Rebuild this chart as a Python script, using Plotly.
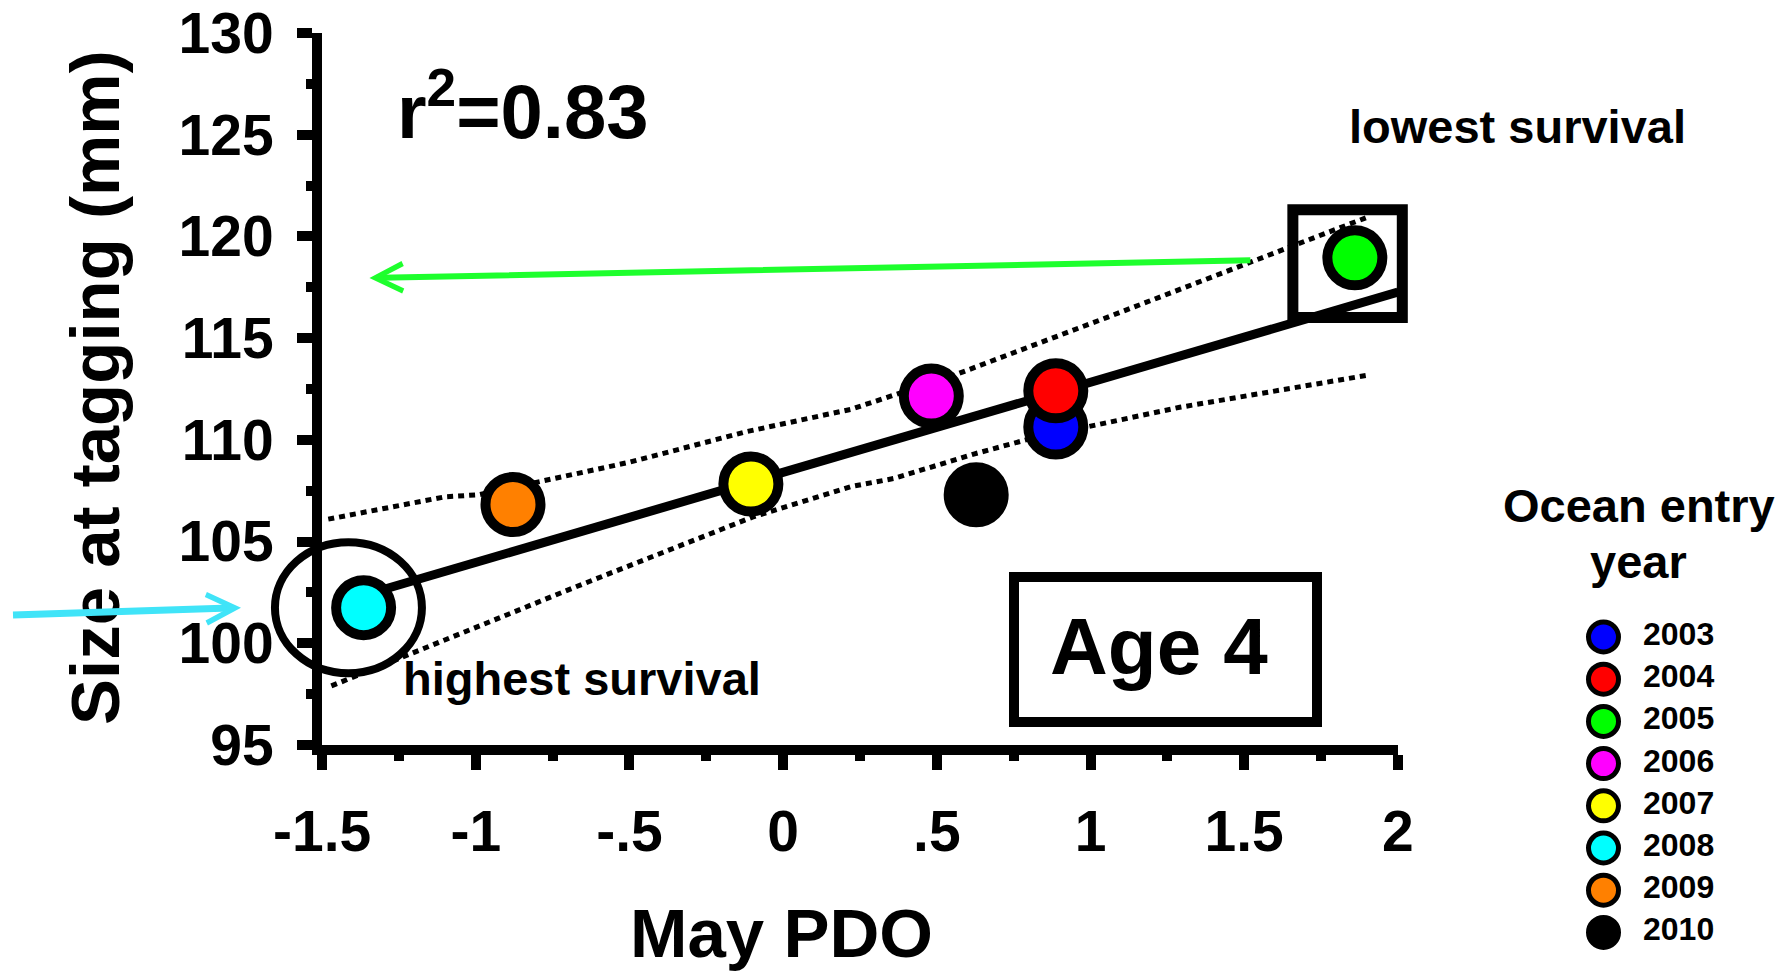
import numpy as np
import plotly.graph_objects as go

# ---------------- data ----------------
years = ['2003', '2004', '2005', '2006', '2007', '2008', '2009', '2010']
may_pdo = [0.887, 0.887, 1.860, 0.482, -0.105, -1.365, -0.879, 0.628]
size_mm = [110.63, 112.41, 118.95, 112.15, 107.83, 101.75, 106.82, 107.30]
year_colors = ['#0000ff', '#ff0000', '#00ff00', '#ff00ff', '#ffff00', '#00ffff', '#ff8000', '#000000']

# dotted confidence band
upper_x = [-1.48, -1.10, -0.99, -0.50, -0.12, 0.22, 0.38, 0.56, 1.05, 1.52, 1.91]
upper_y = [106.1, 107.2, 107.3, 108.9, 110.4, 111.5, 112.3, 113.2, 116.0, 118.7, 121.0]
lower_x = [-1.47, -1.37, -1.18, -0.98, -0.67, -0.10, 0.22, 0.36, 0.62, 0.79, 1.29, 1.91]
lower_y = [97.9, 98.5, 99.7, 100.9, 102.8, 106.2, 107.7, 108.1, 109.3, 110.0, 111.6, 113.2]

x_ticks = [-1.5, -1.0, -0.5, 0.0, 0.5, 1.0, 1.5, 2.0]
x_ticktext = ['-1.5', '-1', '-.5', '0', '.5', '1', '1.5', '2']
y_ticks = [95, 100, 105, 110, 115, 120, 125, 130]
y_ticktext = [str(v) for v in y_ticks]

r2_label = 'r<sup>2</sup>=0.83'

# ---------------- geometry ----------------
W, H = 1785, 974
XR = [-1.5, 2.0]
YR = [95, 130]
PL, PR, PT, PB = 322, 1398, 33, 745   # plot area in pixels
EPS = 0.004                           # tiny range padding so end ticks are kept

FONT = 'Liberation Sans, Arial, Helvetica, sans-serif'


def pxx(X):
    return X / W


def pxy(Y):
    return 1 - Y / H


def d2px_x(x):
    return PL + (x - XR[0]) / (XR[1] - XR[0]) * (PR - PL)


def d2px_y(y):
    return PB - (y - YR[0]) / (YR[1] - YR[0]) * (PB - PT)


# regression line
slope, intercept = np.polyfit(may_pdo, size_mm, 1)
fit_x = np.array([min(may_pdo), XR[1]])
fit_y = slope * fit_x + intercept

fig = go.Figure()

dot_line = dict(color='black', width=5, dash='6px,5px')
fig.add_trace(go.Scatter(x=upper_x, y=upper_y, mode='lines', line=dot_line,
                         showlegend=False, hoverinfo='skip'))
fig.add_trace(go.Scatter(x=lower_x, y=lower_y, mode='lines', line=dot_line,
                         showlegend=False, hoverinfo='skip'))
fig.add_trace(go.Scatter(x=fit_x, y=fit_y, mode='lines',
                         line=dict(color='black', width=9),
                         showlegend=False, hoverinfo='skip'))
for yr, xv, yv, c in zip(years, may_pdo, size_mm, year_colors):
    fig.add_trace(go.Scatter(x=[xv], y=[yv], mode='markers', name=yr,
                             marker=dict(size=55, color=c,
                                         line=dict(color='black', width=10)),
                             showlegend=False))

# custom legend on its own axes
LEG_X0, LEG_X1 = 1570, 1780
LEG_ROW0, LEG_ROW_STEP = 637, 42.2
leg_top = LEG_ROW0 - LEG_ROW_STEP / 2
leg_bot = LEG_ROW0 + LEG_ROW_STEP * (len(years) - 0.5)
fig.add_trace(go.Scatter(x=[1603.5 - LEG_X0] * len(years), y=years, mode='markers',
                         marker=dict(size=30, color=year_colors,
                                     line=dict(color='black', width=5)),
                         xaxis='x2', yaxis='y2', showlegend=False, hoverinfo='skip'))
fig.add_trace(go.Scatter(x=[1643 - LEG_X0] * len(years), y=years, mode='text',
                         text=years, textposition='middle right',
                         textfont=dict(family=FONT, size=32, color='black', weight='bold'),
                         xaxis='x2', yaxis='y2', showlegend=False, hoverinfo='skip'))

axis_common = dict(showgrid=False, zeroline=False, showline=True, linecolor='black',
                   linewidth=10, ticks='outside', tickwidth=10, tickcolor='black',
                   ticklen=15, ticklabeloverflow='allow',
                   tickfont=dict(family=FONT, size=57, color='black', weight='bold'))

fig.update_layout(
    width=W, height=H,
    margin=dict(l=0, r=0, t=0, b=0, autoexpand=False),
    paper_bgcolor='white', plot_bgcolor='white',
    showlegend=False,
    xaxis=dict(domain=[pxx(PL), pxx(PR)], range=[XR[0] - EPS * 0.1, XR[1] + EPS * 0.1],
               tickmode='array', tickvals=x_ticks, ticktext=x_ticktext,
               ticklabelstandoff=13,
               minor=dict(dtick=0.25, tick0=-1.5, ticks='outside', ticklen=6,
                          tickwidth=10, tickcolor='black', showgrid=False),
               automargin=False, **axis_common),
    yaxis=dict(domain=[pxy(PB), pxy(PT)], range=[YR[0] - EPS, YR[1] + EPS],
               tickmode='array', tickvals=y_ticks, ticktext=y_ticktext,
               ticklabelstandoff=12,
               minor=dict(dtick=2.5, tick0=95, ticks='outside', ticklen=6,
                          tickwidth=10, tickcolor='black', showgrid=False),
               automargin=False, **axis_common),
    xaxis2=dict(domain=[pxx(LEG_X0), pxx(LEG_X1)], range=[0, LEG_X1 - LEG_X0],
                visible=False, anchor='y2', fixedrange=True),
    yaxis2=dict(domain=[pxy(leg_bot), pxy(leg_top)], type='category',
                range=[len(years) - 0.5, -0.5], visible=False, anchor='x2',
                fixedrange=True),
)

# ---------------- shapes ----------------
# circle around highest-survival point
cx, cy = d2px_x(-1.414), d2px_y(101.75)
crx, cry = 73.5, 65.5
fig.add_shape(type='circle', xref='paper', yref='paper',
              x0=pxx(cx - crx), x1=pxx(cx + crx), y0=pxy(cy + cry), y1=pxy(cy - cry),
              line=dict(color='black', width=8), layer='above')
# square around lowest-survival point
fig.add_shape(type='rect', xref='paper', yref='paper',
              x0=pxx(d2px_x(1.658)), x1=pxx(d2px_x(2.014)),
              y0=pxy(d2px_y(116.01)), y1=pxy(d2px_y(121.31)),
              line=dict(color='black', width=11), layer='above')
# Age 4 box
fig.add_shape(type='rect', xref='paper', yref='paper',
              x0=pxx(1014), x1=pxx(1317), y0=pxy(722), y1=pxy(577),
              line=dict(color='black', width=10), layer='above')


def txt(text, X, Y, size, xanchor='center', angle=0):
    fig.add_annotation(text=text, xref='paper', yref='paper', x=pxx(X), y=pxy(Y),
                       xanchor=xanchor, yanchor='middle', showarrow=False,
                       textangle=angle,
                       font=dict(family=FONT, size=size, color='black', weight='bold'))


txt(r2_label, 395, 106, 76, xanchor='left')
txt('lowest survival', 1517, 127, 47)
txt('highest survival', 401, 678, 47, xanchor='left')
txt('Age 4', 1159, 646, 80)
txt('Ocean entry', 1639, 505, 47)
txt('year', 1638, 561, 47)
txt('May PDO', 781, 933, 69)
txt('Size at tagging (mm)', 95, 388, 69, angle=-90)

# arrows
fig.add_annotation(x=-1.346, y=117.96, ax=1.525, ay=118.83, xref='x', yref='y',
                   axref='x', ayref='y', text='', showarrow=True,
                   arrowhead=5, arrowsize=0.9, arrowwidth=6, arrowcolor='#1eff2d',
                   standoff=0, startstandoff=0)
fig.add_annotation(x=pxx(241), y=pxy(607.7), ax=-229.5, ay=7.3, xref='paper', yref='paper',
                   text='', showarrow=True,
                   arrowhead=5, arrowsize=0.8, arrowwidth=7, arrowcolor='#40e4f8',
                   standoff=0, startstandoff=0)

fig.write_html('out.html')
